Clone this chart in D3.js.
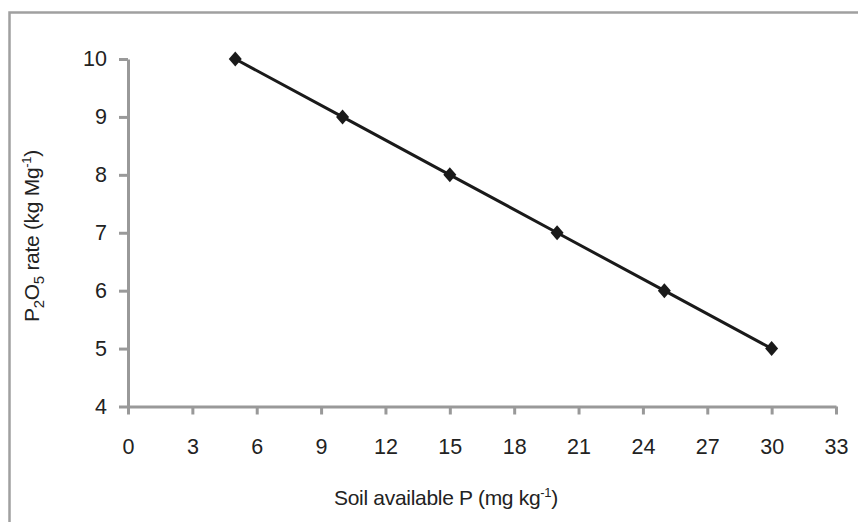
<!DOCTYPE html>
<html><head><meta charset="utf-8">
<script src="https://cdn.jsdelivr.net/npm/d3@7"></script>
<style>body{margin:0;background:#fff}svg{display:block}text{font-family:"Liberation Sans",Arial,sans-serif;fill:#222}</style>
</head><body>
<script>
const soilP = [5, 10, 15, 20, 25, 30];
const p2o5Rate = [10, 9, 8, 7, 6, 5];
const xTicks = [0, 3, 6, 9, 12, 15, 18, 21, 24, 27, 30, 33];
const yTicks = [4, 5, 6, 7, 8, 9, 10];

const W = 858, H = 522;
const svg = d3.select("body").append("svg").attr("width", W).attr("height", H);

// outer border (only top and left visible in reference)
svg.append("path").attr("d", `M9.5,${H+5} V12.5 H${W+5}`)
  .attr("fill", "none").attr("stroke", "#a0a0a0").attr("stroke-width", 2.5);

const x = d3.scaleLinear().domain([0, 33]).range([128, 836]);
const y = d3.scaleLinear().domain([4, 10]).range([406.5, 59]);

const axisColor = "#999";
const fs = 21.5;
const lfs = 21;

// y axis
const yAxis = svg.append("g").attr("transform", `translate(${x(0)},0)`)
  .call(d3.axisLeft(y).tickValues(yTicks).tickFormat(d3.format("d")).tickSize(9).tickPadding(12).tickSizeOuter(0));
// x axis
const xAxis = svg.append("g").attr("transform", `translate(0,${y(4)})`)
  .call(d3.axisBottom(x).tickValues(xTicks).tickFormat(d3.format("d")).tickSize(8).tickPadding(24).tickSizeOuter(0));

[yAxis, xAxis].forEach(g => {
  g.attr("font-size", fs).attr("font-family", null);
  g.select(".domain").attr("stroke", axisColor).attr("stroke-width", 3);
  g.selectAll(".tick line").attr("stroke", axisColor).attr("stroke-width", 3);
  g.selectAll(".tick text").attr("fill", "#222");
});

// line
const data = soilP.map((v, i) => ({x: v, y: p2o5Rate[i]}));
svg.append("path").datum(data)
  .attr("fill", "none").attr("stroke", "#1a1a1a").attr("stroke-width", 3)
  .attr("d", d3.line().x(d => x(d.x)).y(d => y(d.y)));

// diamond markers
svg.selectAll(".mk").data(data).enter().append("path")
  .attr("class", "mk")
  .attr("transform", d => `translate(${x(d.x)},${y(d.y)})`)
  .attr("d", "M0,-7.5 L6.5,0 L0,7.5 L-6.5,0 Z")
  .attr("fill", "#1a1a1a");

// y label with subscripts
const yl = svg.append("text")
  .attr("transform", "translate(39,236) rotate(-90)")
  .attr("text-anchor", "middle").attr("font-size", lfs).attr("letter-spacing", "-0.3px");
yl.append("tspan").text("P");
yl.append("tspan").text("2").attr("font-size", 15).attr("dy", 5);
yl.append("tspan").text("O").attr("dy", -5);
yl.append("tspan").text("5").attr("font-size", 15).attr("dy", 5);
yl.append("tspan").text(" rate (kg Mg").attr("dy", -5);
yl.append("tspan").text("-1").attr("font-size", 13).attr("dy", -8);
yl.append("tspan").text(")").attr("dy", 8);

// x label
const xl = svg.append("text")
  .attr("x", 446).attr("y", 505)
  .attr("text-anchor", "middle").attr("font-size", lfs).attr("letter-spacing", "-0.3px");
xl.append("tspan").text("Soil available P (mg kg");
xl.append("tspan").text("-1").attr("font-size", 13).attr("dy", -8);
xl.append("tspan").text(")").attr("dy", 8);
</script>
</body></html>
